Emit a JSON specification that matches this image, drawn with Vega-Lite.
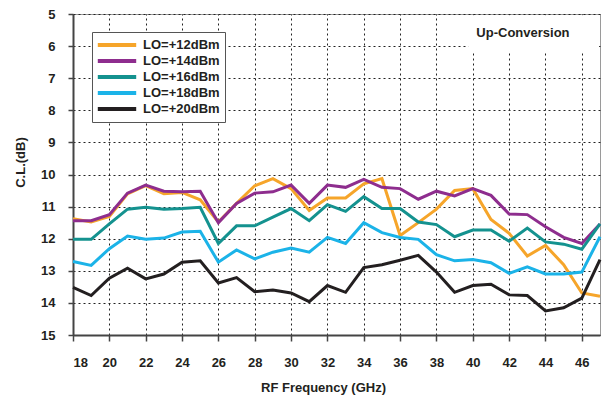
{
  "$schema": "https://vega.github.io/schema/vega-lite/v6.json",
  "width": 527,
  "height": 321,
  "autosize": {"type": "none"},
  "padding": {"left": 73, "top": 14, "right": 5, "bottom": 65},
  "background": "white",
  "config": {
    "font": "Liberation Sans",
    "view": {"stroke": "#9a9a9a", "strokeWidth": 1}
  },
  "resolve": {"axis": {"x": "independent", "y": "independent"}},
  "layer": [
    {
      "data": {"values": [
        {"f": 18, "LO=+12dBm": 11.38, "LO=+14dBm": 11.44, "LO=+16dBm": 12.02, "LO=+18dBm": 12.71, "LO=+20dBm": 13.52},
        {"f": 19, "LO=+12dBm": 11.48, "LO=+14dBm": 11.44, "LO=+16dBm": 12.02, "LO=+18dBm": 12.83, "LO=+20dBm": 13.77},
        {"f": 20, "LO=+12dBm": 11.31, "LO=+14dBm": 11.25, "LO=+16dBm": 11.54, "LO=+18dBm": 12.31, "LO=+20dBm": 13.23},
        {"f": 21, "LO=+12dBm": 10.6, "LO=+14dBm": 10.58, "LO=+16dBm": 11.08, "LO=+18dBm": 11.92, "LO=+20dBm": 12.92},
        {"f": 22, "LO=+12dBm": 10.35, "LO=+14dBm": 10.33, "LO=+16dBm": 11.02, "LO=+18dBm": 12.02, "LO=+20dBm": 13.25},
        {"f": 23, "LO=+12dBm": 10.6, "LO=+14dBm": 10.52, "LO=+16dBm": 11.08, "LO=+18dBm": 11.98, "LO=+20dBm": 13.1},
        {"f": 24, "LO=+12dBm": 10.56, "LO=+14dBm": 10.54, "LO=+16dBm": 11.06, "LO=+18dBm": 11.79, "LO=+20dBm": 12.73},
        {"f": 25, "LO=+12dBm": 10.79, "LO=+14dBm": 10.52, "LO=+16dBm": 11.02, "LO=+18dBm": 11.77, "LO=+20dBm": 12.69},
        {"f": 26, "LO=+12dBm": 11.48, "LO=+14dBm": 11.5, "LO=+16dBm": 12.15, "LO=+18dBm": 12.73, "LO=+20dBm": 13.38},
        {"f": 27, "LO=+12dBm": 10.9, "LO=+14dBm": 10.9, "LO=+16dBm": 11.6, "LO=+18dBm": 12.35, "LO=+20dBm": 13.21},
        {"f": 28, "LO=+12dBm": 10.35, "LO=+14dBm": 10.58, "LO=+16dBm": 11.6, "LO=+18dBm": 12.63, "LO=+20dBm": 13.65},
        {"f": 29, "LO=+12dBm": 10.13, "LO=+14dBm": 10.54, "LO=+16dBm": 11.33, "LO=+18dBm": 12.42, "LO=+20dBm": 13.6},
        {"f": 30, "LO=+12dBm": 10.44, "LO=+14dBm": 10.33, "LO=+16dBm": 11.06, "LO=+18dBm": 12.29, "LO=+20dBm": 13.69},
        {"f": 31, "LO=+12dBm": 11.12, "LO=+14dBm": 10.9, "LO=+16dBm": 11.44, "LO=+18dBm": 12.42, "LO=+20dBm": 13.96},
        {"f": 32, "LO=+12dBm": 10.73, "LO=+14dBm": 10.33, "LO=+16dBm": 10.94, "LO=+18dBm": 11.96, "LO=+20dBm": 13.46},
        {"f": 33, "LO=+12dBm": 10.73, "LO=+14dBm": 10.4, "LO=+16dBm": 11.15, "LO=+18dBm": 12.15, "LO=+20dBm": 13.67},
        {"f": 34, "LO=+12dBm": 10.29, "LO=+14dBm": 10.15, "LO=+16dBm": 10.69, "LO=+18dBm": 11.5, "LO=+20dBm": 12.9},
        {"f": 35, "LO=+12dBm": 10.13, "LO=+14dBm": 10.4, "LO=+16dBm": 11.06, "LO=+18dBm": 11.81, "LO=+20dBm": 12.81},
        {"f": 36, "LO=+12dBm": 11.9, "LO=+14dBm": 10.44, "LO=+16dBm": 11.06, "LO=+18dBm": 11.96, "LO=+20dBm": 12.67},
        {"f": 37, "LO=+12dBm": 11.5, "LO=+14dBm": 10.77, "LO=+16dBm": 11.48, "LO=+18dBm": 12.02, "LO=+20dBm": 12.52},
        {"f": 38, "LO=+12dBm": 11.08, "LO=+14dBm": 10.52, "LO=+16dBm": 11.56, "LO=+18dBm": 12.5, "LO=+20dBm": 13.04},
        {"f": 39, "LO=+12dBm": 10.5, "LO=+14dBm": 10.67, "LO=+16dBm": 11.94, "LO=+18dBm": 12.69, "LO=+20dBm": 13.67},
        {"f": 40, "LO=+12dBm": 10.44, "LO=+14dBm": 10.44, "LO=+16dBm": 11.73, "LO=+18dBm": 12.65, "LO=+20dBm": 13.46},
        {"f": 41, "LO=+12dBm": 11.4, "LO=+14dBm": 10.65, "LO=+16dBm": 11.73, "LO=+18dBm": 12.75, "LO=+20dBm": 13.42},
        {"f": 42, "LO=+12dBm": 11.83, "LO=+14dBm": 11.23, "LO=+16dBm": 12.08, "LO=+18dBm": 13.08, "LO=+20dBm": 13.75},
        {"f": 43, "LO=+12dBm": 12.54, "LO=+14dBm": 11.25, "LO=+16dBm": 11.67, "LO=+18dBm": 12.88, "LO=+20dBm": 13.77},
        {"f": 44, "LO=+12dBm": 12.21, "LO=+14dBm": 11.63, "LO=+16dBm": 12.1, "LO=+18dBm": 13.1, "LO=+20dBm": 14.25},
        {"f": 45, "LO=+12dBm": 12.81, "LO=+14dBm": 11.96, "LO=+16dBm": 12.17, "LO=+18dBm": 13.1, "LO=+20dBm": 14.15},
        {"f": 46, "LO=+12dBm": 13.69, "LO=+14dBm": 12.15, "LO=+16dBm": 12.33, "LO=+18dBm": 13.04, "LO=+20dBm": 13.85},
        {"f": 47, "LO=+12dBm": 13.79, "LO=+14dBm": 11.54, "LO=+16dBm": 11.54, "LO=+18dBm": 11.94, "LO=+20dBm": 12.65}
      ]},
      "transform": [
        {"fold": ["LO=+12dBm", "LO=+14dBm", "LO=+16dBm", "LO=+18dBm", "LO=+20dBm"], "as": ["lo", "cl"]}
      ],
      "mark": {"type": "line", "strokeWidth": 3, "strokeJoin": "miter"},
      "encoding": {
        "x": {
          "field": "f", "type": "quantitative",
          "scale": {"domain": [18, 47], "nice": false, "zero": false},
          "axis": {
            "values": [18, 20, 22, 24, 26, 28, 30, 32, 34, 36, 38, 40, 42, 44, 46],
            "grid": true, "gridDash": [2, 3], "gridColor": "#222222", "gridOpacity": 1, "gridWidth": 1,
            "domainColor": "#444444", "domainWidth": 2,
            "ticks": true, "tickColor": "#444444", "tickSize": 6, "tickWidth": 1.5,
            "labelFont": "Liberation Sans", "labelFontSize": 13, "labelFontWeight": "bold", "labelColor": "#231F20",
            "labelPadding": 15, "labelOverlap": false,
            "title": "RF Frequency (GHz)",
            "titleFont": "Liberation Sans", "titleFontSize": 13, "titleFontWeight": "bold", "titleColor": "#231F20",
            "titleX": 250, "titleY": 46
          }
        },
        "y": {
          "field": "cl", "type": "quantitative",
          "scale": {"domain": [5, 15], "reverse": true, "nice": false, "zero": false},
          "axis": {
            "values": [5, 6, 7, 8, 9, 10, 11, 12, 13, 14, 15],
            "grid": true, "gridDash": [2, 3], "gridColor": "#222222", "gridOpacity": 1, "gridWidth": 1,
            "domainColor": "#444444", "domainWidth": 2,
            "ticks": true, "tickColor": "#444444", "tickSize": 5, "tickWidth": 1.5,
            "labelFont": "Liberation Sans", "labelFontSize": 13, "labelFontWeight": "bold", "labelColor": "#231F20",
            "labelPadding": 13, "labelOverlap": false,
            "title": "C.L.(dB)",
            "titleFont": "Liberation Sans", "titleFontSize": 13, "titleFontWeight": "bold", "titleColor": "#231F20",
            "titleAngle": 270, "titleBaseline": "middle", "titleAlign": "center",
            "titleX": -53, "titleY": 148
          }
        },
        "color": {
          "field": "lo", "type": "nominal",
          "scale": {
            "domain": ["LO=+12dBm", "LO=+14dBm", "LO=+16dBm", "LO=+18dBm", "LO=+20dBm"],
            "range": ["#F6A52A", "#8E2D8E", "#14928F", "#1BB3E8", "#231F20"]
          },
          "legend": {
            "orient": "none", "legendX": 19, "legendY": 18,
            "title": null,
            "fillColor": "white", "strokeColor": "#555555",
            "padding": 5,
            "symbolType": "M-3.2,0H3.2", "symbolSize": 144, "symbolStrokeWidth": 4,
            "symbolOffset": 12,
            "labelExpr": "datum.label + '\u00a0\u00a0\u00a0\u00a0\u00a0\u00a0\u00a0'",
            "labelFont": "Liberation Sans", "labelFontSize": 13, "labelFontWeight": "bold", "labelColor": "#231F20",
            "labelOffset": 18, "rowPadding": 0
          }
        }
      }
    },
    {
      "data": {"values": [{"label": "Up-Conversion"}]},
      "mark": {"type": "rect", "fill": "white"},
      "encoding": {
        "x": {"datum": 39.75, "type": "quantitative", "axis": null},
        "x2": {"datum": 46.95},
        "y": {"datum": 5.04, "type": "quantitative", "axis": null},
        "y2": {"datum": 6.17}
      }
    },
    {
      "data": {"values": [{"label": "Up-Conversion"}]},
      "mark": {"type": "text", "font": "Liberation Sans", "fontSize": 13, "fontWeight": "bold", "color": "#231F20", "align": "center", "baseline": "middle"},
      "encoding": {
        "x": {"datum": 42.76, "type": "quantitative", "axis": null},
        "y": {"datum": 5.59, "type": "quantitative", "axis": null},
        "text": {"field": "label"}
      }
    }
  ]
}
